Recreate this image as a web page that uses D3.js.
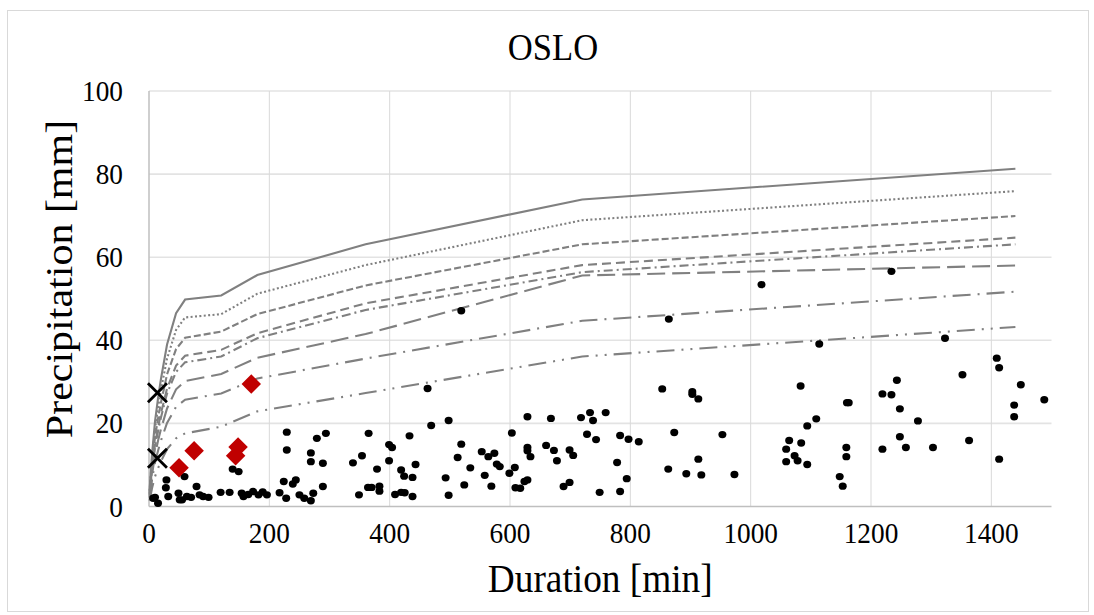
<!DOCTYPE html>
<html>
<head>
<meta charset="utf-8">
<script src="https://cdn.jsdelivr.net/npm/d3@7"></script>
<style>
  html, body { margin: 0; padding: 0; background: #fff; }
  svg { display: block; font-family: "Liberation Serif", "Times New Roman", serif; }
</style>
</head>
<body>
<svg id="chart" width="1094" height="615"></svg>
<script>
// ---- data ---------------------------------------------------------------
const chartTitle = "OSLO";
const xTitle = "Duration [min]";
const yTitle = "Precipitation [mm]";
const xTicks = [0, 200, 400, 600, 800, 1000, 1200, 1400];
const yTicks = [0, 20, 40, 60, 80, 100];

// IDF curve durations (min) and depths (mm), one array per curve
const idfDurations = [1, 5, 10, 15, 20, 30, 45, 60, 120, 180, 360, 720, 1440];
const curveA = [4.0, 12.5, 20.5, 26.0, 30.8, 39.0, 46.5, 49.8, 50.8, 55.7, 63.1, 73.9, 81.3];
const curveB = [3.7, 11.4, 18.7, 23.8, 28.2, 35.6, 42.5, 45.5, 46.3, 51.2, 58.1, 68.9, 75.9];
const curveC = [3.3, 10.2, 16.7, 21.2, 25.1, 31.8, 37.9, 40.6, 42.1, 46.3, 53.2, 63.1, 69.9];
const curveD = [2.9, 9.1, 14.9, 19.0, 22.5, 28.4, 33.9, 36.3, 37.7, 41.7, 48.9, 58.1, 64.7];
const curveE = [2.8, 8.7, 14.3, 18.1, 21.5, 27.2, 32.4, 34.7, 36.1, 40.5, 47.3, 56.4, 63.1];
const curveF = [2.4, 7.6, 12.4, 15.8, 18.7, 23.6, 28.2, 30.2, 31.9, 35.8, 41.5, 55.6, 58.0];
const curveG = [2.1, 6.5, 10.6, 13.4, 15.9, 20.1, 24.0, 25.7, 27.2, 30.8, 35.6, 44.7, 51.7];
const curveH = [1.4, 4.4, 7.2, 9.2, 10.9, 13.8, 16.4, 17.6, 19.2, 22.9, 27.3, 36.1, 43.2];

// observed events: duration (min) and depth (mm)
const eventDuration = [
  10, 15, 29, 28, 32, 59, 49, 55, 63, 70, 79, 84, 90, 99, 119, 134, 139, 149, 154, 157,
  165, 173, 182, 189, 196, 229, 229, 224, 217, 228, 239, 244, 250, 258, 269, 269, 269, 273, 279, 289,
  289, 294, 7, 51,
  463, 365, 469, 498, 354, 339, 379, 399, 404, 399, 433, 419, 424, 438, 443, 349, 364, 370, 383, 383,
  409, 419, 425, 438, 493, 498, 519, 513, 534, 524, 553, 564, 574, 558, 569, 578, 583, 603, 608, 599,
  609, 617, 624, 629, 629, 629, 629, 634, 668, 660, 673, 678, 699, 705, 689, 699, 718, 733, 738, 759,
  728, 743, 783, 797, 778, 794, 749, 783,
  814, 853, 903, 903, 913, 873, 953, 913, 863, 893, 918, 973, 1114, 1083, 1160, 1163, 1109, 1094, 1064, 1084,
  1059, 1073, 1078, 1059, 1094, 1159, 1159, 1148, 1153, 1243, 1219, 1234, 1248, 1278, 1248, 1258, 1219,
  1323, 1409, 1413, 1352, 1449, 1488, 1438, 1438, 1303, 1363, 1413,
  1018, 1234, 519, 864
];
const eventDepth = [
  2.2, 0.8, 6.4, 4.5, 2.4, 7.2, 3.2, 1.6, 2.4, 2.2, 4.8, 2.8, 2.4, 2.2, 3.4, 3.4, 9.0, 8.4, 3.2, 2.4,
  2.9, 3.6, 2.8, 3.5, 2.8, 17.9, 13.6, 6.0, 3.3, 2.0, 5.4, 6.4, 2.8, 2.0, 1.4, 12.9, 10.8, 3.2, 16.4, 10.4,
  4.8, 17.6, 2.0, 1.6,
  28.4, 17.6, 19.5, 20.7, 12.2, 10.5, 9.0, 14.9, 14.2, 11.0, 17.0, 8.8, 7.3, 7.0, 10.1, 2.8, 4.6, 4.6, 4.9, 3.7,
  2.9, 3.4, 3.3, 2.4, 6.9, 2.7, 15.0, 11.8, 9.3, 5.2, 13.2, 12.0, 12.8, 7.5, 4.9, 10.2, 9.6, 17.7, 9.4, 8.0,
  4.5, 4.4, 6.0, 6.4, 21.6, 14.2, 13.4, 12.0, 21.2, 14.7, 13.5, 11.0, 13.6, 12.3, 4.8, 5.8, 21.4, 22.6, 20.7, 22.6,
  17.4, 16.1, 17.1, 16.2, 10.6, 6.7, 3.4, 3.6,
  15.6, 28.3, 27.6, 27.0, 25.9, 17.8, 17.3, 11.4, 9.0, 7.9, 7.6, 7.7, 39.1, 29.0, 25.0, 25.0, 21.1, 19.4, 15.9, 15.3,
  13.8, 12.2, 11.0, 10.8, 10.1, 14.2, 12.0, 7.2, 4.9, 30.4, 27.1, 26.9, 23.5, 20.6, 16.8, 14.2, 13.8,
  40.5, 35.7, 33.4, 31.7, 29.3, 25.7, 24.4, 21.6, 14.2, 15.9, 11.4,
  53.4, 56.6, 47.1, 45.1
];

// highlighted events (red diamonds)
const highlightDuration = [50, 75, 148, 144, 170];
const highlightDepth = [9.3, 13.4, 14.3, 12.2, 29.5];

// reference marks (crosses)
const crossDuration = [14, 14];
const crossDepth = [27.4, 11.6];

// ---- layout -------------------------------------------------------------
const svg = d3.select("#chart");
const plot = { left: 149, right: 1051.5, top: 91, bottom: 506.5 };
const textSqueeze = 0.91;

const x = d3.scaleLinear().domain([0, 1500]).range([plot.left, plot.right]);
const y = d3.scaleLinear().domain([0, 100]).range([plot.bottom, plot.top]);

// outer frame
svg.append("rect")
  .attr("x", 7.5).attr("y", 10.5).attr("width", 1081).attr("height", 601)
  .attr("fill", "#fff").attr("stroke", "#d9d9d9").attr("stroke-width", 1);

// gridlines
const grid = svg.append("g");
grid.selectAll("line.h").data(yTicks.filter(d => d > 0)).join("line")
  .attr("x1", plot.left).attr("x2", plot.right)
  .attr("y1", d => y(d)).attr("y2", d => y(d))
  .attr("stroke", "#e3e3e3").attr("stroke-width", 1.6);
grid.selectAll("line.v").data(xTicks.filter(d => d > 0)).join("line")
  .attr("x1", d => x(d)).attr("x2", d => x(d))
  .attr("y1", plot.top).attr("y2", plot.bottom)
  .attr("stroke", "#d9d9d9").attr("stroke-width", 1);

// axis lines
svg.append("line")
  .attr("x1", plot.left).attr("x2", plot.right)
  .attr("y1", plot.bottom).attr("y2", plot.bottom)
  .attr("stroke", "#bfbfbf").attr("stroke-width", 1.5);
svg.append("line")
  .attr("x1", plot.left).attr("x2", plot.left)
  .attr("y1", plot.top).attr("y2", plot.bottom)
  .attr("stroke", "#bfbfbf").attr("stroke-width", 1.5);

// horizontally condensed text
function label(g, tx, ty, text, size, anchor, rotate) {
  const t = g.append("g")
    .attr("transform", `translate(${tx},${ty}) scale(${textSqueeze},1)` + (rotate ? ` rotate(${rotate})` : ""));
  return t.append("text").attr("x", 0).attr("y", 0)
    .attr("text-anchor", anchor)
    .attr("font-size", size).attr("fill", "#000").text(text);
}

// tick labels
const tickG = svg.append("g");
xTicks.forEach(d => label(tickG, x(d), 543, d, 30, "middle"));
yTicks.forEach(d => label(tickG, 123, y(d) + 10, d, 30, "end"));

// titles
label(svg, 553, 60, chartTitle, 38, "middle");
label(svg, (plot.left + plot.right) / 2, 592, xTitle, 41, "middle");
label(svg, 72, 279, yTitle, 42, "middle", -90);

// IDF curves
const curves = [
  { v: curveA, dash: null },
  { v: curveB, dash: "2,2.4" },
  { v: curveC, dash: "7,3" },
  { v: curveD, dash: "9,5" },
  { v: curveE, dash: "9,4,2,4" },
  { v: curveF, dash: "18,7" },
  { v: curveG, dash: "18,7,2,7" },
  { v: curveH, dash: "18,7,2,7,2,7" }
];
const line = d3.line().x(d => x(d[0])).y(d => y(d[1]));
svg.append("g").selectAll("path").data(curves).join("path")
  .attr("d", c => line(idfDurations.map((d, i) => [d, c.v[i]])))
  .attr("fill", "none")
  .attr("stroke", "#808080")
  .attr("stroke-width", 2.1)
  .attr("stroke-dasharray", c => c.dash);

// observed events
svg.append("g").selectAll("ellipse").data(eventDuration.map((d, i) => [d, eventDepth[i]])).join("ellipse")
  .attr("cx", d => x(d[0])).attr("cy", d => y(d[1]))
  .attr("rx", 4).attr("ry", 3.7)
  .attr("fill", "#000");

// highlighted events
const diamond = d3.symbol().type(d3.symbolSquare).size(190);
svg.append("g").selectAll("path").data(highlightDuration.map((d, i) => [d, highlightDepth[i]])).join("path")
  .attr("d", diamond)
  .attr("transform", d => `translate(${x(d[0])},${y(d[1])}) rotate(45)`)
  .attr("fill", "#c00000");

// crosses
const half = 9.5;
svg.append("g").selectAll("path").data(crossDuration.map((d, i) => [d, crossDepth[i]])).join("path")
  .attr("d", d => {
    const cx = x(d[0]), cy = y(d[1]);
    return `M${cx - half},${cy - half}L${cx + half},${cy + half}M${cx - half},${cy + half}L${cx + half},${cy - half}`;
  })
  .attr("stroke", "#000").attr("stroke-width", 2.8).attr("fill", "none");
</script>
</body>
</html>
